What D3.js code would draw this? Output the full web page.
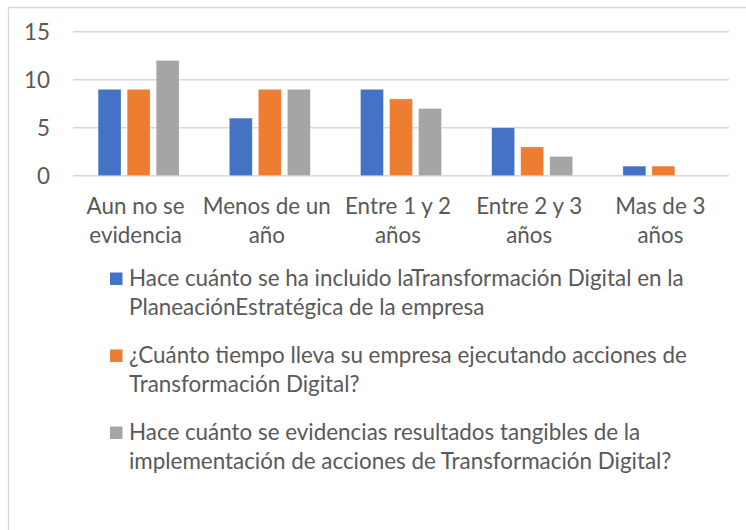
<!DOCTYPE html>
<html><head><meta charset="utf-8">
<script src="https://cdn.jsdelivr.net/npm/d3@7"></script>
<style>body{margin:0;background:#fff}svg{display:block}</style>
</head><body>
<script>
const categories = ["Aun no se evidencia","Menos de un año","Entre 1 y 2 años","Entre 2 y 3 años","Mas de 3 años"];
const categoryLines = [["Aun no se","evidencia"],["Menos de un","año"],["Entre 1 y 2","años"],["Entre 2 y 3","años"],["Mas de 3","años"]];
const seriesNames = [
  "Hace cuánto se ha incluido laTransformación Digital en la PlaneaciónEstratégica de la empresa",
  "¿Cuánto tiempo lleva su empresa ejecutando acciones de Transformación Digital?",
  "Hace cuánto se evidencias resultados tangibles de la implementación de acciones de Transformación Digital?"
];
const legendLines = [
  ["Hace cuánto se ha incluido laTransformación Digital en la","PlaneaciónEstratégica de la empresa"],
  ["¿Cuánto tiempo lleva su empresa ejecutando acciones de","Transformación Digital?"],
  ["Hace cuánto se evidencias resultados tangibles de la","implementación de acciones de Transformación Digital?"]
];
const seriesPlaneacion = [9,6,9,5,1];
const seriesAcciones   = [9,9,8,3,1];
const seriesResultados = [12,9,7,2,0];
const yTicks = [0,5,10,15];
const colors = ["#4472C4","#ED7D31","#A5A5A5"];

const series = [seriesPlaneacion, seriesAcciones, seriesResultados];
const W = 746, H = 530;
const svg = d3.select("body").append("svg").attr("width", W).attr("height", H);
const FONT = "Lato, 'Open Sans', sans-serif";
const TXT = "#595959";

// frame
svg.append("path").attr("d", `M8.5,${H} L8.5,7.5 L${W},7.5`)
  .attr("fill","none").attr("stroke","#d9d9d9").attr("stroke-width",1.3);

// font size calibration so text widths match reference
const probe = svg.append("text").attr("font-family", FONT).attr("font-size", 100).text(legendLines[0][0]);
const pw = probe.node().getComputedTextLength();
probe.remove();
const fs = Math.min(24, 555 / pw * 100);

const x0 = d3.scaleBand().domain(categories).range([73, 729]);
const x1 = d3.scaleBand().domain([0,1,2]).range([0, 81]).paddingInner(0.21);
const y = d3.scaleLinear().domain([0,15]).range([175.7, 31.7]);

// gridlines
svg.append("g").selectAll("line").data(yTicks).join("line")
  .attr("x1", 73).attr("x2", 729)
  .attr("y1", d => y(d)).attr("y2", d => y(d))
  .attr("stroke", "#d9d9d9").attr("stroke-width", 1.4);

// y axis labels
const yAxis = d3.axisLeft(y).tickValues(yTicks).tickSize(0).tickPadding(0);
const yg = svg.append("g").attr("transform","translate(50,0)").call(yAxis);
yg.select(".domain").remove();
yg.selectAll("text").attr("font-family", FONT).attr("font-size", fs).attr("fill", TXT).attr("dy","0.35em");

// bars
const groups = svg.append("g").selectAll("g").data(categories).join("g")
  .attr("transform", d => `translate(${x0(d) + x0.bandwidth()/2 - 40.5},0)`);
groups.selectAll("rect").data((d,i) => series.map((s,k) => ({k, v: s[i]}))).join("rect")
  .attr("x", d => x1(d.k)).attr("width", x1.bandwidth())
  .attr("y", d => y(d.v)).attr("height", d => y(0) - y(d.v))
  .attr("fill", d => colors[d.k])
  .attr("stroke", "#fff").attr("stroke-width", 0.6).attr("stroke-opacity", 0.5);

// x labels
const xl = svg.append("g").selectAll("text").data(categories).join("text")
  .attr("x", d => x0(d) + x0.bandwidth()/2 - 3)
  .attr("y", 214)
  .attr("text-anchor","middle").attr("font-family", FONT).attr("font-size", fs).attr("fill", TXT);
xl.selectAll("tspan").data((d,i) => categoryLines[i]).join("tspan")
  .attr("x", function(){ return this.parentNode.getAttribute("x"); })
  .attr("dy", (d,j) => j === 0 ? 0 : 29)
  .text(d => d);

// legend
const lg = svg.append("g").selectAll("g").data(seriesNames).join("g")
  .attr("transform", (d,i) => `translate(0,${i*77})`);
lg.append("rect").attr("x",110).attr("y",272.5).attr("width",12.5).attr("height",12.5)
  .attr("fill",(d,i)=>colors[i]);
const lt = lg.append("text").attr("x",129).attr("y",286)
  .attr("font-family", FONT).attr("font-size", fs).attr("fill", TXT);
lt.selectAll("tspan").data((d,i) => legendLines[i]).join("tspan")
  .attr("x",129).attr("dy",(d,j)=> j===0?0:29).text(d=>d);
</script>
</body></html>
